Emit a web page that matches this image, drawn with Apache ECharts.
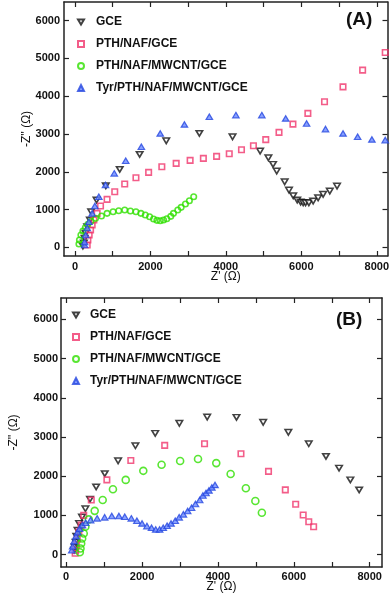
<!DOCTYPE html>
<html><head><meta charset="utf-8">
<script src="https://cdn.jsdelivr.net/npm/echarts@6/dist/echarts.min.js"></script>
<style>html,body{margin:0;padding:0;background:#fff}#c{width:392px;height:598px}</style>
</head><body><div id="c"></div>
<script>
const seriesNames = ['GCE', 'PTH/NAF/GCE', 'PTH/NAF/MWCNT/GCE', 'Tyr/PTH/NAF/MWCNT/GCE'];
const xTickValues = [0, 1000, 2000, 3000, 4000, 5000, 6000, 7000, 8000];
const xLabelValues = [0, 2000, 4000, 6000, 8000];
const yTickValues = [0, 1000, 2000, 3000, 4000, 5000, 6000];
const panelLabels = ['(A)', '(B)'];
const xAxisTitle = "Z' (\u03A9)";
const yAxisTitle = "-Z'' (\u03A9)";

// Panel A
const aGCE = [[211,34],[237,114],[256,238],[282,370],[325,545],[396,722],[430,942],[573,1251],[818,1630],[1187,2063],[1715,2460],[2420,2820],[3298,3016],[4177,2926],[4908,2548],[5127,2370],[5251,2196],[5348,2019],[5559,1735],[5673,1516],[5786,1365],[5892,1251],[5982,1198],[6050,1180],[6113,1180],[6200,1180],[6314,1225],[6446,1312],[6578,1402],[6755,1489],[6947,1622]];
const aPTH = [[325,61],[343,193],[377,325],[414,458],[456,590],[501,722],[588,899],[678,1093],[852,1270],[1055,1471],[1319,1675],[1617,1841],[1953,1984],[2303,2132],[2683,2222],[3053,2302],[3404,2354],[3755,2407],[4090,2476],[4414,2582],[4731,2688],[5058,2852],[5409,3042],[5778,3262],[6174,3545],[6615,3852],[7105,4249],[7625,4690],[8224,5159]];
const aMWCNT = [[106,87],[119,193],[158,325],[211,431],[277,524],[343,608],[422,688],[546,767],[704,828],[852,899],[1011,942],[1161,968],[1319,987],[1470,960],[1617,942],[1749,899],[1865,854],[1979,810],[2084,749],[2172,714],[2261,704],[2348,722],[2435,757],[2541,820],[2612,899],[2726,987],[2815,1058],[2929,1146],[3034,1233],[3148,1339]];
const aTyr = [[256,61],[256,140],[282,325],[325,511],[369,677],[456,899],[528,1093],[633,1339],[810,1648],[1042,1958],[1346,2291],[1760,2661],[2261,3016],[2902,3254],[3562,3455],[4266,3500],[4953,3500],[5586,3413],[6140,3280],[6641,3130],[7106,3016],[7493,2926],[7871,2857],[8224,2839]];

// Panel B
const bGCE = [[211,110],[224,195],[250,315],[268,469],[301,623],[340,795],[417,956],[507,1169],[628,1413],[790,1726],[1017,2064],[1369,2392],[1825,2777],[2347,3092],[2983,3349],[3717,3508],[4489,3500],[5192,3374],[5856,3118],[6394,2828],[6847,2503],[7192,2205],[7490,1905],[7722,1649]];
const bPTH = [[237,33],[250,110],[268,238],[293,392],[335,579],[396,751],[463,1000],[662,1392],[1073,1905],[1704,2400],[2597,2785],[3647,2828],[4607,2572],[5333,2123],[5776,1649],[6049,1282],[6247,1008],[6394,836],[6522,708]];
const bMWCNT = [[360,59],[378,154],[396,282],[422,410],[463,538],[507,708],[597,897],[752,1115],[963,1392],[1233,1667],[1570,1905],[2033,2136],[2515,2290],[3004,2385],[3475,2436],[3956,2333],[4335,2054],[4736,1692],[4986,1367],[5158,1067]];
const bTyr = [[147,110],[172,213],[211,341],[257,469],[301,572],[353,662],[430,751],[515,810],[644,879],[816,923],[1014,949],[1202,982],[1390,982],[1544,964],[1717,923],[1864,862],[2000,795],[2129,726],[2250,682],[2360,641],[2463,641],[2558,682],[2661,733],[2764,795],[2875,862],[2978,949],[3089,1026],[3202,1110],[3305,1195],[3408,1290],[3519,1392],[3604,1508],[3686,1572],[3763,1636],[3840,1713],[3923,1777]];

const FONT = "'Liberation Sans', Arial, sans-serif";
const AX = '#222';
const styles = [
  {symbol: 'path://M0,0 L10,0 L5,8.5 Z', size: [6.5, 5.5], itemStyle: {color: '#fff', borderColor: '#111', borderWidth: 1.6}},
  {symbol: 'rect', size: 5.5, itemStyle: {color: 'rgba(255,255,255,0)', borderColor: '#f0346c', borderWidth: 1.6}},
  {symbol: 'circle', size: 5.5, itemStyle: {color: 'rgba(255,255,255,0)', borderColor: '#2fe000', borderWidth: 1.6}},
  {symbol: 'triangle', size: [6.5, 5.5], itemStyle: {color: '#6a88ff', borderColor: '#2446e0', borderWidth: 1.2}}
];
const plain = function (v) { return String(v); };

function xAxes(gi, min, max, margin, nameGap) {
  const common = {gridIndex: gi, type: 'value', min: min, max: max, splitLine: {show: false},
    axisLine: {show: true, onZero: false, lineStyle: {color: AX, width: 1.5}},
    axisTick: {show: true, inside: true, length: 5, customValues: xTickValues, lineStyle: {color: AX, width: 1.2}}};
  return [
    Object.assign({}, common, {position: 'bottom',
      axisLabel: {customValues: xLabelValues, formatter: plain, fontFamily: FONT, fontWeight: 'bold', fontSize: 11, color: '#111', margin: margin},
      name: xAxisTitle, nameLocation: 'middle', nameGap: nameGap, nameMoveOverlap: false,
      nameTextStyle: {fontFamily: FONT, fontSize: 12, color: '#111'}}),
    Object.assign({}, common, {position: 'top', axisLabel: {show: false}})
  ];
}
function yAxes(gi, min, max, margin, nameGap) {
  const common = {gridIndex: gi, type: 'value', min: min, max: max, splitLine: {show: false},
    axisLine: {show: true, onZero: false, lineStyle: {color: AX, width: 1.5}},
    axisTick: {show: true, inside: true, length: 5, customValues: yTickValues, lineStyle: {color: AX, width: 1.2}}};
  return [
    Object.assign({}, common, {position: 'left',
      axisLabel: {customValues: yTickValues, formatter: plain, fontFamily: FONT, fontWeight: 'bold', fontSize: 11, color: '#111', margin: margin},
      name: yAxisTitle, nameLocation: 'middle', nameGap: nameGap, nameMoveOverlap: false,
      nameTextStyle: {fontFamily: FONT, fontSize: 12, color: '#111'}}),
    Object.assign({}, common, {position: 'right', axisLabel: {show: false}})
  ];
}

const panelData = [[aGCE, aPTH, aMWCNT, aTyr], [bGCE, bPTH, bMWCNT, bTyr]];
const series = [];
panelData.forEach(function (sets, p) {
  sets.forEach(function (d, i) {
    const st = styles[i];
    let size = st.size;
    if (p === 1 && i === 2) size = 7;
    series.push({name: seriesNames[i], type: 'scatter', xAxisIndex: p * 2, yAxisIndex: p * 2,
      data: d, symbol: st.symbol, symbolSize: size, itemStyle: st.itemStyle, emphasis: {disabled: true}, z: 2 + i});
  });
});

function legendFor(left, top, pad) {
  return {data: seriesNames, orient: 'vertical', left: left, top: top, padding: 0,
    itemWidth: 6, itemHeight: 6, itemGap: 8, selectedMode: false,
    textStyle: {fontFamily: FONT, fontWeight: 'bold', fontSize: 12, lineHeight: 14, color: '#111', padding: [0, 0, 0, pad]}};
}

const chart = echarts.init(document.getElementById('c'), null, {renderer: 'canvas'});
chart.setOption({
  animation: false,
  backgroundColor: '#fff',
  grid: [
    {left: 64, top: 2, width: 325, height: 254},
    {left: 53, top: 298, width: 329, height: 269}
  ],
  title: [
    {text: panelLabels[0], left: 346, top: 10, padding: 0, textStyle: {fontFamily: FONT, fontSize: 19, fontWeight: 'bold', color: '#111'}},
    {text: panelLabels[1], left: 336, top: 310, padding: 0, textStyle: {fontFamily: FONT, fontSize: 19, fontWeight: 'bold', color: '#111'}}
  ],
  legend: [legendFor(77, 15, 7), legendFor(72, 308, 6)],
  xAxis: xAxes(0, -290, 8285, 5, 15).concat(xAxes(1, -136, 8324, 4, 14)),
  yAxis: yAxes(0, -230, 6495, 4, 31).concat(yAxes(1, -318, 6546, 3, 41)),
  series: series
});
</script></body></html>
